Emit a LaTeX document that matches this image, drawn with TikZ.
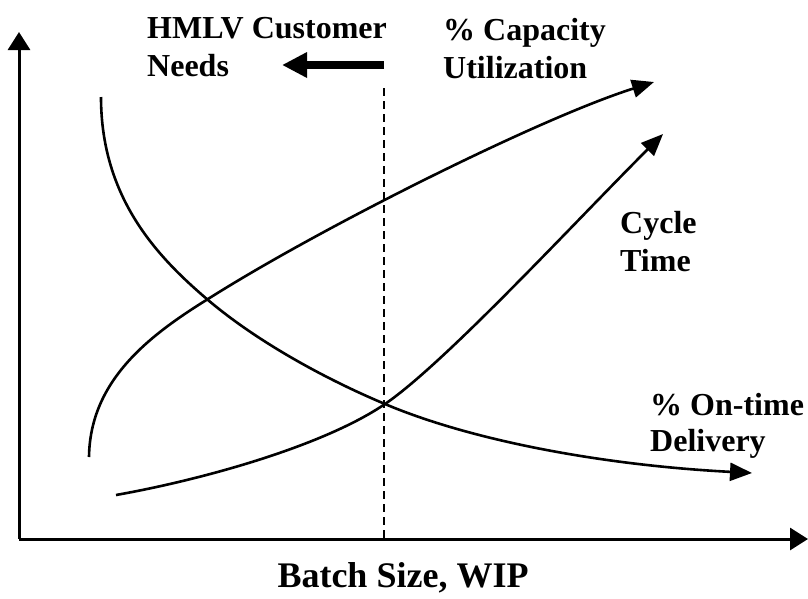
\documentclass[tikz,border=0pt]{standalone}
\usepackage{fontspec}
\setmainfont{Liberation Serif}
\usetikzlibrary{arrows.meta}
\begin{document}
\begin{tikzpicture}[x=1pt,y=-1pt,
  axisline/.style={line width=3pt, -{Triangle[length=18pt,width=22pt]}},
  curveline/.style={line width=2.6pt, -{Triangle[length=22pt,width=18pt]}},
  lbl/.style={font=\fontsize{32}{38}\selectfont\bfseries, anchor=base west, inner sep=0pt},
]
\useasboundingbox (0,0) rectangle (808,598);

% axes
\coordinate (origin) at (19,539);
\coordinate (ytip) at (19,32);
\coordinate (xtip) at (808,539);
\draw[axisline] (origin) -- (ytip);
\draw[axisline] (origin) -- (xtip);

% dashed marker through the crossing point
\coordinate (dtop) at (384,88);
\coordinate (dbot) at (384,539);
\draw[line width=1.5pt, dash pattern=on 8pt off 5pt] (dtop) -- (dbot);

% % Capacity Utilization
\draw[curveline] (89,457) .. controls (90,380) and (150,335) .. (208,299)
  .. controls (320,228) and (540,118) .. (654,82);

% % On-time Delivery
\draw[curveline] (101,97) .. controls (101,200) and (160,259) .. (208,300)
  .. controls (260,344) and (330,381) .. (385,404)
  .. controls (470,440) and (600,465) .. (752,473);

% Cycle Time
\draw[curveline] (116,495) .. controls (206,479) and (325,445) .. (385,404)
  .. controls (445,363) and (573,224) .. (663,134);

% HMLV direction arrow
\coordinate (hstart) at (384,65);
\coordinate (hend) at (282,65);
\draw[line width=8pt, -{Triangle[length=25pt,width=24pt]}] (hstart) -- (hend);

% labels
\node[lbl] (hmlv) at (147,38) {HMLV Customer};
\node[lbl] (needs) at (147,76) {Needs};
\node[lbl] (cap) at (443,40) {\% Capacity};
\node[lbl] (util) at (443,78) {Utilization};
\node[lbl] (cycle) at (620,233) {Cycle};
\node[lbl] (ctime) at (620,271) {Time};
\node[lbl] (ontime) at (650,415) {\% On-time};
\node[lbl] (deliv) at (650,451) {Delivery};
\node[font=\fontsize{36}{42}\selectfont\bfseries, anchor=base, inner sep=0pt] (xlabel) at (403,587) {Batch Size, WIP};
\end{tikzpicture}
\end{document}
